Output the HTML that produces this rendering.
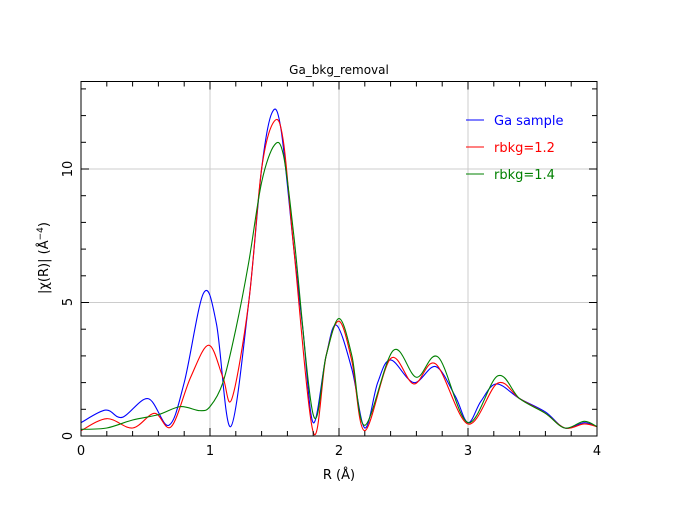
<!DOCTYPE html>
<html><head><meta charset="utf-8"><style>
body{margin:0;background:#fff;}
svg{display:block;font-family:"DejaVu Sans","Liberation Sans",sans-serif;}
</style></head><body>
<svg id="s" width="677" height="517" viewBox="0 0 677 517">
<rect width="677" height="517" fill="#fff"/>
<g id="grid" stroke="#cccccc" stroke-width="1"></g>
<g id="curves" fill="none" stroke-width="1.1"></g>
<rect x="81" y="81.5" width="516" height="354.5" fill="none" stroke="#000" stroke-width="1"/>
<g id="ticks" stroke="#000" stroke-width="1"></g>
<text x="339" y="74" font-size="12" text-anchor="middle">Ga_bkg_removal</text>
<g font-size="13" text-anchor="middle">
<text x="81" y="455">0</text><text x="210" y="455">1</text><text x="339" y="455">2</text><text x="468" y="455">3</text><text x="597" y="455">4</text>
</g>
<g font-size="13" text-anchor="middle">
<text transform="translate(72,436) rotate(-90)">0</text>
<text transform="translate(72,302) rotate(-90)">5</text>
<text transform="translate(72,169) rotate(-90)">10</text>
</g>
<text x="339" y="479" font-size="13" text-anchor="middle">R (Å)</text>
<text transform="translate(48,258) rotate(-90)" font-size="13" text-anchor="middle">|χ(R)| (Å<tspan dy="-5" font-size="9">−4</tspan><tspan dy="5">)</tspan></text>
<line x1="466" y1="120" x2="484" y2="120" stroke="#0000ff"/>
<line x1="466" y1="147" x2="484" y2="147" stroke="#ff0000"/>
<line x1="466" y1="174" x2="484" y2="174" stroke="#008000"/>
<g font-size="13">
<text x="494" y="125" fill="#0000ff">Ga sample</text>
<text x="494" y="152" fill="#ff0000">rbkg=1.2</text>
<text x="494" y="179" fill="#008000">rbkg=1.4</text>
</g>
</svg>
<script>
var X=function(r){return 81+r*129;},Y=function(v){return 436-v*26.7;};
var ns="http://www.w3.org/2000/svg";
function L(g,x1,y1,x2,y2){var l=document.createElementNS(ns,"line");l.setAttribute("x1",x1);l.setAttribute("y1",y1);l.setAttribute("x2",x2);l.setAttribute("y2",y2);document.getElementById(g).appendChild(l);}
for(var i=1;i<4;i++)L("grid",X(i),82,X(i),436);
L("grid",81,Y(5),597,Y(5));L("grid",81,Y(10),597,Y(10));
for(var i=1;i<20;i++){var x=X(i*0.2),len=(i%5==0)?8:5;L("ticks",x,436,x,436-len);L("ticks",x,81.5,x,81.5+len);}
for(var v=1;v<=13;v++){var y=Y(v),len=(v%5==0)?8:5;L("ticks",81,y,81+len,y);L("ticks",597,y,597-len,y);}
var D={
"#0000ff":[[0,.5],[.19,.97],[.32,.7],[.52,1.4],[.68,.4],[.8,2],[.95,5.35],[1.05,4.2],[1.16,.35],[1.3,5],[1.4,10],[1.48,12.1],[1.55,11.5],[1.65,7],[1.72,4],[1.8,.5],[1.9,3],[1.98,4.15],[2.1,2.5],[2.2,.3],[2.3,2],[2.4,2.85],[2.58,2],[2.75,2.6],[2.9,1.5],[3,.5],[3.1,1.3],[3.22,1.95],[3.4,1.4],[3.6,.9],[3.75,.3],[3.9,.5],[4,.35]],
"#ff0000":[[0,.2],[.2,.65],[.4,.3],[.57,.85],[.7,.35],[.85,2.2],[.99,3.4],[1.1,2.2],[1.17,1.4],[1.3,5],[1.4,10],[1.5,11.8],[1.57,11],[1.65,7],[1.8,.15],[1.9,3],[2,4.3],[2.1,2.8],[2.2,.2],[2.4,2.9],[2.58,1.95],[2.75,2.7],[3,.45],[3.23,1.98],[3.4,1.4],[3.6,.85],[3.75,.3],[3.9,.45],[4,.35]],
"#008000":[[0,.25],[.2,.3],[.4,.6],[.6,.8],[.77,1.1],[.92,.95],[1,1.1],[1.1,2],[1.2,4],[1.3,6.5],[1.4,9.5],[1.5,10.9],[1.57,10.5],[1.65,7.5],[1.8,.8],[1.9,3],[2,4.4],[2.1,3],[2.2,.4],[2.42,3.2],[2.6,2.2],[2.77,2.95],[3,.5],[3.23,2.25],[3.4,1.4],[3.6,.85],[3.75,.3],[3.9,.55],[4,.35]]};
for(var c in D){var p=D[c].map(function(a){return[X(a[0]),Y(a[1])];});
var d="M"+p[0][0]+","+p[0][1];
for(var i=0;i<p.length-1;i++){var p0=p[Math.max(i-1,0)],p1=p[i],p2=p[i+1],p3=p[Math.min(i+2,p.length-1)];
d+=" C"+(p1[0]+(p2[0]-p0[0])/6)+","+(p1[1]+(p2[1]-p0[1])/6)+" "+(p2[0]-(p3[0]-p1[0])/6)+","+(p2[1]-(p3[1]-p1[1])/6)+" "+p2[0]+","+p2[1];}
var e=document.createElementNS(ns,"path");e.setAttribute("d",d);e.setAttribute("stroke",c);document.getElementById("curves").appendChild(e);}
</script>
</body></html>
